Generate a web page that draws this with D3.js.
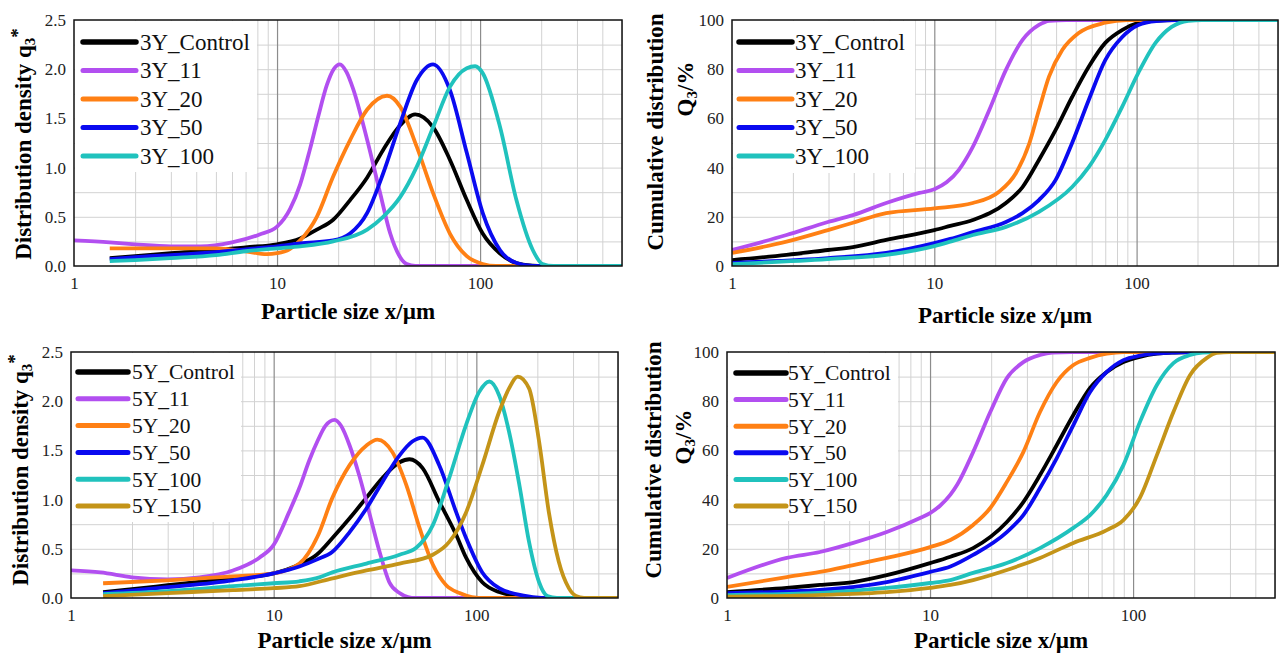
<!DOCTYPE html>
<html>
<head>
<meta charset="utf-8">
<script src="https://cdn.jsdelivr.net/npm/d3@7"></script>
<style>
  body { margin: 0; background: #fff; }
  svg { display: block; }
  svg text { font-family: "Liberation Serif", Tinos, "Times New Roman", "DejaVu Serif", "Noto Serif", serif; }
</style>
</head>
<body>
<div id="chart"></div>
<script>
// Particle size x (µm) vs. value
var xTickValues = [1, 10, 100];
var densityTicks = [0, 0.5, 1.0, 1.5, 2.0, 2.5];
var cumulativeTicks = [0, 20, 40, 60, 80, 100];

var names3Y = ["3Y_Control", "3Y_11", "3Y_20", "3Y_50", "3Y_100"];
var names5Y = ["5Y_Control", "5Y_11", "5Y_20", "5Y_50", "5Y_100", "5Y_150"];
var colors = ["#000000", "#b24ff0", "#ff8014", "#0a0af0", "#20c2bd", "#c49418"];

// distribution density q3* - 3Y
var q3_3Y_Control = [[1.5,0.08],[2,0.10],[3,0.13],[5,0.16],[7,0.19],[10,0.22],[13,0.28],[15.7,0.37],[18.9,0.47],[22.9,0.67],[27.8,0.90],[33.3,1.18],[40.4,1.43],[47.9,1.54],[58.7,1.41],[71,1.08],[86,0.67],[103,0.33],[125,0.13],[151,0.03],[182,0.004],[200,0],[500,0]];
var q3_3Y_11 = [[1,0.26],[1.5,0.24],[2,0.22],[3,0.20],[4.2,0.20],[6,0.24],[8.2,0.32],[10,0.40],[11.6,0.58],[13,0.83],[14.5,1.18],[16,1.53],[17.6,1.84],[19,2.00],[20.4,2.05],[22,1.97],[23.7,1.80],[27.8,1.28],[32.2,0.74],[36.1,0.33],[40.4,0.09],[43.5,0.02],[48,0],[500,0]];
var q3_3Y_20 = [[1.5,0.18],[3,0.18],[5,0.18],[7,0.15],[8.9,0.12],[10,0.13],[11.5,0.17],[13,0.26],[15.7,0.50],[18.9,0.91],[22.9,1.28],[27.8,1.59],[34.8,1.73],[40.4,1.62],[48.8,1.21],[58.7,0.74],[71,0.33],[86,0.10],[103,0.02],[120,0],[500,0]];
var q3_3Y_50 = [[1.5,0.07],[2,0.09],[3,0.11],[5,0.14],[7,0.17],[10,0.20],[13,0.23],[18.9,0.26],[22.9,0.33],[27.8,0.54],[33.3,0.94],[40.4,1.45],[48.8,1.89],[58.7,2.05],[71,1.79],[86,1.15],[103,0.54],[125.5,0.16],[151,0.03],[182,0],[500,0]];
var q3_3Y_100 = [[1.5,0.05],[2,0.06],[3,0.08],[5,0.11],[7,0.15],[10,0.18],[13,0.20],[18.9,0.25],[27.8,0.37],[33.3,0.50],[40.4,0.70],[48.8,1.01],[58.7,1.41],[71,1.82],[86,2.01],[94.6,2.03],[103,1.96],[125.5,1.41],[151,0.67],[182,0.16],[203,0.02],[230,0],[500,0]];

// cumulative distribution Q3 (%) - 3Y
var Q3_3Y_Control = [[1,2.4],[1.86,4.5],[2.98,6.5],[3.96,7.7],[5.78,10.6],[10,14.6],[12,16.3],[15.5,18.7],[22.6,25.6],[27.3,32.1],[32.9,43.1],[39.8,55.3],[48,68.7],[58,81],[70,90.7],[84.7,95.9],[102,98.8],[125,99.8],[150,100],[500,100]];
var Q3_3Y_11 = [[1,6.5],[1.86,12.6],[2.98,17.9],[3.96,20.7],[5.78,25.6],[8.44,29.7],[10,31.2],[11.5,34],[13.2,39],[15.5,48.4],[18.7,63.4],[22.6,79.7],[27.3,91.9],[32.9,98],[37,99.7],[45,100],[500,100]];
var Q3_3Y_20 = [[1,5.3],[1.86,9.9],[2.98,14.6],[3.96,17.6],[5.78,21.5],[10,23.4],[15.5,25.6],[20.9,30.2],[25.3,37.7],[29.5,49.9],[32.9,63.4],[36.9,77],[42.9,87.8],[51.5,94.6],[70,98.9],[90,100],[500,100]];
var Q3_3Y_50 = [[1,1.3],[2.98,3.2],[5.78,5.3],[10,9.3],[12,11.0],[15.5,13.8],[22.6,17.9],[27.3,21.5],[32.9,26.8],[39.8,35],[48,50],[58,67.5],[70,83.7],[84.7,93],[102,98],[125,99.6],[160,100],[500,100]];
var Q3_3Y_100 = [[1,0.8],[2.98,2.8],[5.78,4.5],[10,8.1],[12,9.9],[15.5,12.6],[22.6,15.9],[32.9,22],[48,32.1],[58,40.2],[70,51.2],[84.7,64.6],[102,78.5],[124,90.7],[149,97.2],[180,99.7],[210,100],[500,100]];

// distribution density q3* - 5Y
var q3_5Y_Control = [[1.44,0.06],[2,0.09],[3,0.13],[4.5,0.17],[6.3,0.20],[10,0.25],[13.4,0.34],[16.3,0.44],[19.5,0.61],[23.7,0.81],[28.7,1.02],[34.4,1.22],[41.8,1.38],[46.8,1.41],[54.3,1.32],[65.6,0.98],[79.6,0.64],[89,0.41],[107,0.16],[129.5,0.06],[157,0.02],[190,0],[500,0]];
var q3_5Y_11 = [[1,0.28],[1.4,0.26],[2,0.21],[3,0.19],[4.3,0.21],[6.3,0.28],[8.5,0.41],[10,0.54],[11.9,0.87],[13.4,1.12],[15,1.40],[16.5,1.60],[18,1.75],[20,1.81],[21.5,1.75],[23.7,1.55],[26.4,1.25],[29.6,0.87],[33.3,0.47],[37.2,0.16],[41.8,0.05],[46,0.01],[50,0],[500,0]];
var q3_5Y_20 = [[1.44,0.15],[3,0.18],[6.3,0.22],[10,0.25],[13.4,0.35],[16.5,0.63],[19.5,1.02],[23.7,1.35],[28.7,1.55],[32.5,1.61],[38.6,1.48],[45.1,1.15],[52.5,0.71],[61,0.34],[71,0.13],[82.6,0.05],[95,0.01],[110,0],[500,0]];
var q3_5Y_50 = [[1.44,0.05],[3,0.11],[6.3,0.18],[10,0.25],[13.4,0.32],[16.3,0.39],[19.5,0.47],[23.7,0.67],[28.7,0.91],[34.4,1.18],[41.8,1.45],[48.3,1.59],[54.3,1.63],[65.6,1.35],[79.6,0.87],[89,0.61],[107,0.26],[129.5,0.10],[157,0.04],[190,0.01],[230,0],[400,0]];
var q3_5Y_100 = [[1.44,0.04],[3,0.07],[6.3,0.12],[10,0.15],[13.4,0.17],[16.8,0.21],[19.5,0.26],[28.7,0.35],[41.8,0.44],[50.5,0.51],[61,0.74],[73.5,1.22],[89,1.76],[103,2.09],[116,2.20],[129.5,2.06],[145,1.69],[163,1.15],[182,0.57],[204,0.16],[224,0.02],[250,0],[500,0]];
var q3_5Y_150 = [[1.44,0.02],[3,0.05],[6.3,0.08],[10,0.10],[13.4,0.12],[19.5,0.20],[28.7,0.28],[41.8,0.35],[61,0.44],[73.5,0.57],[89,0.87],[107,1.35],[129.5,1.89],[145,2.13],[160,2.25],[182,2.13],[204,1.59],[228,0.87],[255,0.37],[286,0.10],[310,0.02],[340,0],[500,0]];

// cumulative distribution Q3 (%) - 5Y
var Q3_5Y_Control = [[1,2.4],[1.97,4.1],[2.87,5.3],[4.19,6.5],[6.12,9.3],[10,14.2],[12.6,16.8],[16.3,20.3],[23.9,30.9],[28.8,39],[34.8,50],[42.1,62.2],[50.8,74.4],[61.4,85.4],[74.2,91.9],[89.6,95.9],[108,98],[131,99.3],[160,99.8],[200,100],[500,100]];
var Q3_5Y_11 = [[1,8.1],[1.97,16.3],[2.87,18.7],[4.19,22.4],[6.12,26.8],[8.93,32.5],[10,34.5],[11.2,37.5],[12.6,42],[13.6,46],[16.3,59.3],[19.8,75.6],[23.9,89.4],[28.8,95.9],[34.8,98.8],[40,99.8],[50,100],[500,100]];
var Q3_5Y_20 = [[1,4.5],[1.97,8.5],[2.87,10.6],[4.19,13.4],[6.12,16.3],[10,20.7],[12.6,23.6],[16.3,29.7],[19.8,36.6],[23.9,47.2],[28.8,59.3],[34.8,75.6],[42.1,87.8],[50.8,94.7],[61.4,97.6],[74.2,99.3],[90,100],[500,100]];
var Q3_5Y_50 = [[1,2],[2.87,3.3],[6.12,6.5],[10,10.6],[12.6,12.8],[16.3,17.5],[23.9,26.8],[28.8,33.7],[34.8,44.7],[42.1,56.9],[50.8,70.3],[61.4,83.7],[74.2,91.9],[89.6,96.7],[108,98.5],[131,99.4],[160,99.8],[200,100],[300,100]];
var Q3_5Y_100 = [[1,1.2],[3,2.2],[6.12,4.1],[10,6.1],[12.6,7.3],[16.3,10.2],[23.9,14.2],[34.8,20.3],[50.8,28.5],[61.4,33.7],[74.2,41.9],[89.6,54],[108,71.5],[131,86.6],[158,95.5],[191,98.8],[220,99.8],[260,100],[500,100]];
var Q3_5Y_150 = [[1,0.5],[3,1.3],[6.12,2.4],[10,4.1],[12.6,5.3],[16.3,7.3],[23.9,11.4],[34.8,16.3],[50.8,22.4],[74.2,27.6],[89.6,31.7],[108,40.7],[131,58.1],[158,75.6],[191,90.7],[231,97.6],[258,99.6],[300,100],[500,100]];

var svg = d3.select("#chart")
  .append("svg")
  .attr("width", 1279)
  .attr("height", 655);

function drawPanel(cfg, id) {
  var w = cfg.right - cfg.left;
  var h = cfg.bottom - cfg.top;

  var x = d3.scaleLog().domain([1, 500]).range([0, w]);
  var y = d3.scaleLinear().domain([0, cfg.yTicks[cfg.yTicks.length - 1]]).range([h, 0]);

  svg.append("clipPath").attr("id", "clip" + id)
    .append("rect").attr("width", w).attr("height", h);

  var g = svg.append("g")
    .attr("transform", `translate(${cfg.left}, ${cfg.top})`);

  // minor vertical grid (2..9 per decade)
  var minorX = [];
  [1, 10, 100].forEach(function(dec) {
    for (var m = 2; m <= 9; m++) {
      if (dec * m <= 500) minorX.push(dec * m);
    }
  });
  var gridX = g.append("g")
    .attr("transform", `translate(0, ${h})`)
    .call(d3.axisBottom(x).tickValues(minorX).tickSize(-h).tickFormat(""));
  gridX.select(".domain").remove();
  gridX.selectAll("line").attr("stroke", "#d2d2d2").attr("stroke-width", 1);

  // horizontal grid
  var yMax = y.domain()[1];
  var gridY = g.append("g")
    .call(d3.axisLeft(y).tickValues(d3.range(cfg.yStep, yMax, cfg.yStep)).tickSize(-w).tickFormat(""));
  gridY.select(".domain").remove();
  gridY.selectAll("line").attr("stroke", "#d2d2d2").attr("stroke-width", 1);

  // major vertical lines at 10 and 100
  var majorX = g.append("g")
    .attr("transform", `translate(0, ${h})`)
    .call(d3.axisBottom(x).tickValues([10, 100]).tickSize(-h).tickFormat(""));
  majorX.select(".domain").remove();
  majorX.selectAll("line").attr("stroke", "#8c8c8c").attr("stroke-width", 1.2);

  // white legend background
  g.append("rect")
    .attr("x", 1).attr("y", 1)
    .attr("width", cfg.legend.boxRight - cfg.left)
    .attr("height", cfg.legend.boxBottom - cfg.top)
    .attr("fill", "#fff");

  // curves
  var line = d3.line()
    .x(d => x(d[0]))
    .y(d => y(d[1]))
    .curve(d3.curveMonotoneX);

  var curves = g.append("g").attr("clip-path", `url(#clip${id})`);
  cfg.series.forEach(function(s, i) {
    curves.append("path")
      .datum(s)
      .attr("d", line)
      .attr("fill", "none")
      .attr("stroke", colors[i])
      .attr("stroke-width", 3.8)
      .attr("stroke-linejoin", "round");
  });

  // frame
  g.append("rect")
    .attr("width", w).attr("height", h)
    .attr("fill", "none")
    .attr("stroke", "#111")
    .attr("stroke-width", 1.5);

  // tick labels
  var xAxis = g.append("g")
    .attr("transform", `translate(0, ${h})`)
    .call(d3.axisBottom(x).tickValues(xTickValues).tickSize(0).tickPadding(11).tickFormat(d3.format("d")));
  xAxis.select(".domain").remove();
  xAxis.attr("font-family", null);
  xAxis.selectAll("text").attr("font-size", 17).attr("fill", "#222");

  var yAxis = g.append("g")
    .call(d3.axisLeft(y).tickValues(cfg.yTicks).tickSize(0).tickPadding(8).tickFormat(cfg.yFormat));
  yAxis.select(".domain").remove();
  yAxis.attr("font-family", null);
  yAxis.selectAll("text").attr("font-size", 17).attr("fill", "#222");

  // legend
  var lg = cfg.legend;
  cfg.names.forEach(function(name, i) {
    var ly = lg.y0 + i * lg.dy;
    svg.append("line")
      .attr("x1", lg.x1).attr("x2", lg.x2)
      .attr("y1", ly).attr("y2", ly)
      .attr("stroke", colors[i])
      .attr("stroke-width", i == 0 ? 5.5 : 5)
      .attr("stroke-linecap", "round");
    svg.append("text")
      .attr("x", lg.tx).attr("y", ly)
      .attr("dy", "0.34em")
      .attr("font-size", lg.fontSize)
      .attr("fill", "#111")
      .text(name);
  });

  // x title
  svg.append("text")
    .attr("x", (cfg.left + cfg.right) / 2)
    .attr("y", cfg.xTitleY)
    .attr("text-anchor", "middle")
    .attr("font-size", 23)
    .attr("font-weight", "bold")
    .text("Particle size x/µm");

  // y title(s)
  cfg.yTitle.forEach(function(t) {
    var txt = svg.append("text")
      .attr("transform", `translate(${t.x}, ${t.y}) rotate(-90)`)
      .attr("text-anchor", "middle")
      .attr("font-size", 23)
      .attr("font-weight", "bold");
    txt.append("tspan").text(t.main);
    if (t.sub) {
      txt.append("tspan").attr("font-size", 15).attr("dy", 4).text(t.sub);
    }
    if (t.sup) {
      txt.append("tspan").attr("font-size", 19).attr("dy", -11).text(t.sup);
    }
    if (t.tail) {
      txt.append("tspan").attr("dy", -4).text(t.tail);
    }
  });
}

var fmtDensity = d3.format(".1f");
var fmtPercent = d3.format("d");

drawPanel({
  left: 74, top: 20, right: 622, bottom: 266,
  yTicks: densityTicks, yStep: 0.25, yFormat: fmtDensity,
  series: [q3_3Y_Control, q3_3Y_11, q3_3Y_20, q3_3Y_50, q3_3Y_100],
  names: names3Y,
  legend: { x1: 83, x2: 136, tx: 140, y0: 42, dy: 28.5, fontSize: 23, boxRight: 256, boxBottom: 171 },
  xTitleY: 319,
  yTitle: [{ x: 31, y: 144, main: "Distribution density q", sub: "3", sup: "*" }]
}, 1);

drawPanel({
  left: 732, top: 20, right: 1278, bottom: 266,
  yTicks: cumulativeTicks, yStep: 10, yFormat: fmtPercent,
  series: [Q3_3Y_Control, Q3_3Y_11, Q3_3Y_20, Q3_3Y_50, Q3_3Y_100],
  names: names3Y,
  legend: { x1: 739, x2: 792, tx: 795, y0: 42, dy: 28.5, fontSize: 23, boxRight: 914, boxBottom: 172 },
  xTitleY: 323,
  yTitle: [
    { x: 663, y: 132, main: "Cumulative distribution" },
    { x: 693, y: 89, main: "Q", sub: "3", tail: "/%" }
  ]
}, 2);

drawPanel({
  left: 71, top: 352, right: 618, bottom: 598,
  yTicks: densityTicks, yStep: 0.25, yFormat: fmtDensity,
  series: [q3_5Y_Control, q3_5Y_11, q3_5Y_20, q3_5Y_50, q3_5Y_100, q3_5Y_150],
  names: names5Y,
  legend: { x1: 78, x2: 128, tx: 132, y0: 372, dy: 26.8, fontSize: 21.5, boxRight: 240, boxBottom: 521 },
  xTitleY: 648,
  yTitle: [{ x: 28, y: 470, main: "Distribution density q", sub: "3", sup: "*" }]
}, 3);

drawPanel({
  left: 727, top: 352, right: 1275, bottom: 598,
  yTicks: cumulativeTicks, yStep: 10, yFormat: fmtPercent,
  series: [Q3_5Y_Control, Q3_5Y_11, Q3_5Y_20, Q3_5Y_50, Q3_5Y_100, Q3_5Y_150],
  names: names5Y,
  legend: { x1: 736, x2: 786, tx: 788, y0: 373, dy: 26.6, fontSize: 21.5, boxRight: 897, boxBottom: 520 },
  xTitleY: 648,
  yTitle: [
    { x: 661, y: 460, main: "Cumulative distribution" },
    { x: 691, y: 437, main: "Q", sub: "3", tail: "/%" }
  ]
}, 4);
</script>
</body>
</html>
